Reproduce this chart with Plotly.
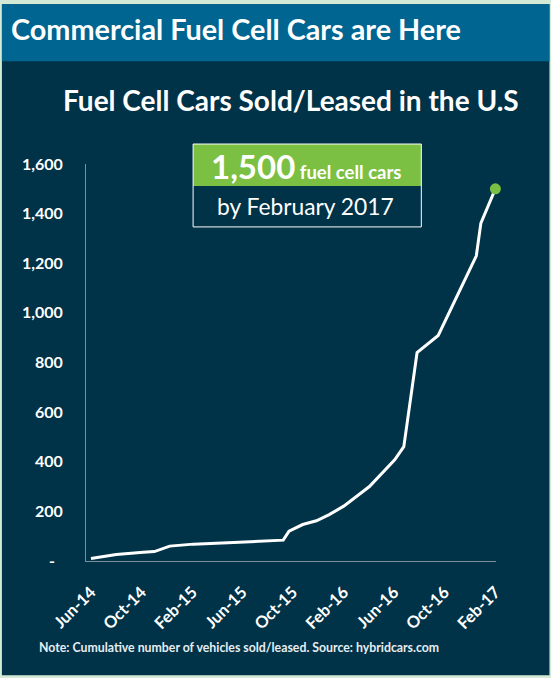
import plotly.graph_objects as go

# ---- data ----
dates = ["2014-06-01", "2014-08-01", "2014-10-05", "2014-11-01", "2014-12-08",
         "2015-02-03", "2015-05-25", "2015-09-08", "2015-09-22", "2015-10-25",
         "2015-11-27", "2015-12-28", "2016-02-01", "2016-04-03", "2016-06-03",
         "2016-06-25", "2016-07-27", "2016-09-16", "2016-12-17", "2016-12-28",
         "2017-02-01"]
cars = [10, 26, 35, 38, 60, 68, 76, 84, 120, 147, 162, 187, 221, 300, 408,
        461, 840, 909, 1230, 1362, 1500]

tick_dates = ["2014-06-01", "2014-10-01", "2015-02-01", "2015-06-01", "2015-10-01",
              "2016-02-01", "2016-06-01", "2016-10-01", "2017-02-01"]
tick_labels = ["Jun-14", "Oct-14", "Feb-15", "Jun-15", "Oct-15",
               "Feb-16", "Jun-16", "Oct-16", "Feb-17"]
y_ticks = [0, 200, 400, 600, 800, 1000, 1200, 1400, 1600]
y_labels = ["-\u00a0\u00a0", "200", "400", "600", "800", "1,000", "1,200", "1,400", "1,600"]

title_text = "Commercial Fuel Cell Cars are Here"
subtitle_text = "Fuel Cell Cars Sold/Leased in the U.S"
callout_big = "1,500"
callout_small = "fuel cell cars"
callout_sub = "by February 2017"
note_text = "Note: Cumulative number of vehicles sold/leased. Source: hybridcars.com"

# ---- layout geometry (pixels) ----
W, H = 551, 678
L, R, T, B = 86, 495.6, 164, 561.5

def px(x):
    return (x - L) / (R - L)

def py(y):
    return (B - y) / (B - T)

NAVY = "#003248"
BLUE = "#006691"
GREEN = "#7cc043"
FONT = "Lato"

fig = go.Figure()
fig.add_trace(go.Scatter(
    x=dates, y=cars, mode="lines",
    line=dict(color="white", width=3), hoverinfo="skip", showlegend=False))
fig.add_trace(go.Scatter(
    x=[dates[-1]], y=[cars[-1]], mode="markers", cliponaxis=False,
    marker=dict(color=GREEN, size=11), hoverinfo="skip", showlegend=False))

shapes = [
    dict(type="rect", xref="paper", yref="paper", x0=px(2), x1=px(549), y0=py(4), y1=py(676),
         fillcolor=NAVY, line=dict(width=0), layer="below"),
    dict(type="rect", xref="paper", yref="paper", x0=px(2), x1=px(549), y0=py(4), y1=py(61),
         fillcolor=BLUE, line=dict(width=0), layer="below"),
    dict(type="rect", xref="paper", yref="paper", x0=px(193), x1=px(421), y0=py(144), y1=py(186),
         fillcolor=GREEN, line=dict(width=0), layer="above"),
    dict(type="rect", xref="paper", yref="paper", x0=px(193), x1=px(421), y0=py(144), y1=py(227),
         fillcolor="rgba(0,0,0,0)", line=dict(color="white", width=1), layer="above"),
]

annotations = [
    dict(text=f"<b>{title_text}</b>", xref="paper", yref="paper", x=px(9), y=py(29),
         xanchor="left", yanchor="middle", showarrow=False,
         font=dict(family=FONT, size=28.8, color="white")),
    dict(text=f"<b>{subtitle_text}</b>", xref="paper", yref="paper", x=px(291), y=py(100),
         xanchor="center", yanchor="middle", showarrow=False,
         font=dict(family=FONT, size=28, color="white")),
    dict(text=f"<b><span style='font-size:33px'>{callout_big}</span> "
              f"<span style='font-size:18.5px'>{callout_small}</span></b>",
         xref="paper", yref="paper", x=px(306), y=py(166),
         xanchor="center", yanchor="middle", showarrow=False,
         font=dict(family=FONT, size=18.5, color="white")),
    dict(text=callout_sub, xref="paper", yref="paper", x=px(305), y=py(206),
         xanchor="center", yanchor="middle", showarrow=False,
         font=dict(family=FONT, size=22.8, color="white")),
    dict(text=f"<b>{note_text}</b>", xref="paper", yref="paper", x=px(37), y=py(648),
         xanchor="left", yanchor="middle", showarrow=False,
         font=dict(family=FONT, size=12.3, color="#e6edf1")),
]

fig.update_layout(
    width=W, height=H,
    margin=dict(l=L, r=W - R, t=T, b=H - B, pad=0),
    paper_bgcolor="#d3ebd6", plot_bgcolor="rgba(0,0,0,0)",
    shapes=shapes, annotations=annotations,
    font=dict(family=FONT, color="white"),
    xaxis=dict(
        type="date", range=["2014-05-20", "2017-02-02 12:00"],
        tickmode="array", tickvals=tick_dates, ticktext=tick_labels,
        tickangle=-45, ticks="", ticklabelstandoff=14,
        tickfont=dict(family=FONT, size=16.5, color="white", weight="bold"),
        showgrid=False, zeroline=False,
        showline=True, linecolor="#7d8e99", linewidth=1),
    yaxis=dict(
        range=[0, 1600], tickmode="array", tickvals=y_ticks, ticktext=y_labels,
        ticks="", ticklabelstandoff=19,
        tickfont=dict(family=FONT, size=16, color="white", weight="bold"),
        showgrid=False, zeroline=False,
        showline=True, linecolor="#7d8e99", linewidth=1),
)

fig.write_html("out.html", config={"displayModeBar": False},
               post_script="document.body.style.margin='0px';")
